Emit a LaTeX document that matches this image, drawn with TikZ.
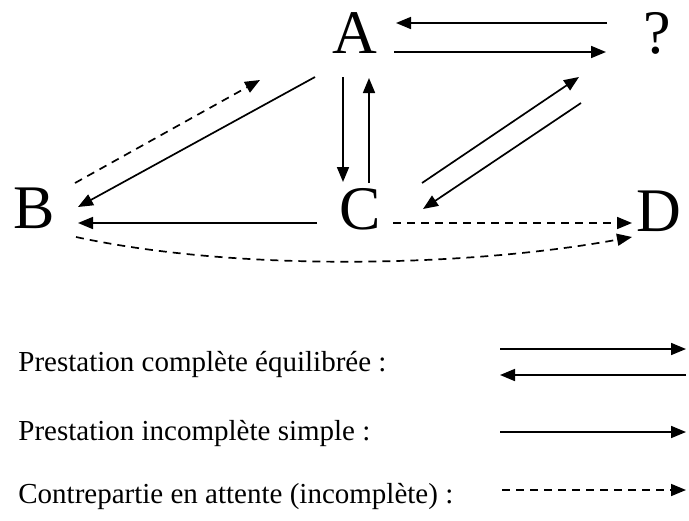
\documentclass[tikz,border=0pt]{standalone}
\usepackage{fontspec}
\setmainfont{Liberation Serif}
\usetikzlibrary{arrows.meta, calc}

\begin{document}
\begin{tikzpicture}[
    x=0.5pt, y=-0.5pt, >={Triangle[length=7.5pt,width=6pt]},
    letter/.style={inner sep=0pt, font=\fontsize{31}{33}\selectfont},
    legend/.style={inner sep=0pt, anchor=west, font=\fontsize{14.5}{16}\selectfont},
    line/.style={draw, ->, line width=0.85pt},
    wait/.style={line, dash pattern=on 4pt off 3pt}
  ]
    \useasboundingbox (0,0) rectangle (689,520);
    \node (A) [letter] at (355,33) {A};
    \node (Q) [letter] at (657,33) {?};
    \node (B) [letter] at (34,208) {B};
    \node (C) [letter] at (360,209) {C};
    \node (D) [letter] at (659,211) {D};

    \draw[line] ($(Q)+(-50,-10)$) -- ($(A)+(41,-10)$);
    \draw[line] ($(A)+(39,19)$) -- ($(Q)+(-51,19)$);
    \draw[line] ($(A)+(-12,44)$) -- ($(C)+(-17,-27)$);
    \draw[line] ($(C)+(9,-26)$) -- ($(A)+(14,45)$);
    \draw[line] ($(C)+(62,-26)$) -- ($(Q)+(-78,44)$);
    \draw[line] ($(Q)+(-76,70)$) -- ($(C)+(63,0)$);
    \draw[line] ($(A)+(-40,44)$) -- ($(B)+(44,-1)$);
    \draw[wait] ($(B)+(41,-25)$) -- ($(A)+(-95,47)$);
    \draw[line] ($(C)+(-43,14)$) -- ($(B)+(44,15)$);
    \draw[wait] ($(C)+(33,14)$) -- ($(D)+(-27,12)$);
    \draw[wait] ($(B)+(42,29)$) .. controls ($(B)+(204,64)$) and ($(D)+(-191,56)$) .. ($(D)+(-27,26)$);

    % legende
    \node (t1) [legend] at (18,364) {Prestation complète équilibrée :};
    \node (t2) [legend] at (18,433) {Prestation incomplète simple :};
    \node (t3) [legend] at (18,496) {Contrepartie en attente (incomplète) :};
    \coordinate (l1a) at (500,349); \coordinate (l1b) at (686,349);
    \coordinate (l2a) at (500,375); \coordinate (l2b) at (686,375);
    \coordinate (l3a) at (500,432); \coordinate (l3b) at (686,432);
    \coordinate (l4a) at (502,490); \coordinate (l4b) at (686,490);
    \draw[line] (l1a) -- (l1b);
    \draw[line] (l2b) -- (l2a);
    \draw[line] (l3a) -- (l3b);
    \draw[wait] (l4a) -- (l4b);
\end{tikzpicture}
\end{document}
